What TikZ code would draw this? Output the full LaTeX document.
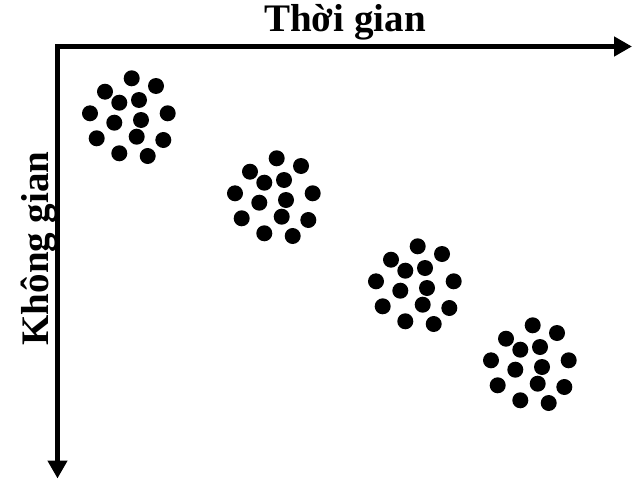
\documentclass[tikz,border=0pt]{standalone}
\usepackage{fontspec}
\setmainfont{Liberation Serif}
\usetikzlibrary{arrows.meta}
\begin{document}
\begin{tikzpicture}[x=1pt,y=-1pt,
  axis/.style={line width=4.5pt,{Triangle[length=18pt,width=19pt]}-{Triangle[length=18pt,width=19pt]}},
  dot/.style={circle,fill=black,inner sep=0pt,minimum size=16pt},
  lbl/.style={font=\bfseries\fontsize{39}{39}\selectfont,inner sep=0pt}]
\useasboundingbox (0,0) rectangle (639,479);
\coordinate (o) at (57.5,46.5);
\coordinate (xend) at (632,46.5);
\coordinate (yend) at (57.5,478.5);
\draw[axis] (yend) -- (o) -- (xend);
\node[lbl,anchor=base] (tx) at (345,31.5) {Thời gian};
\node[lbl,anchor=base,rotate=90] (ty) at (48,248.5) {Không gian};
\foreach \cx/\cy [count=\c] in {0/0,145/80,286/168,401/247}{
  \foreach \px/\py [count=\d] in {131.7/78.3,156/86,105/91.7,119.3/102.7,139/100,90/113.3,167.7/113.3,114.3/122.7,141/120,136.7/136.7,96.7/138.3,163.3/140,119.3/153.3,147.7/156}{
    \node[dot] (d\c-\d) at (\px+\cx,\py+\cy) {};
  }
}
\end{tikzpicture}
\end{document}
